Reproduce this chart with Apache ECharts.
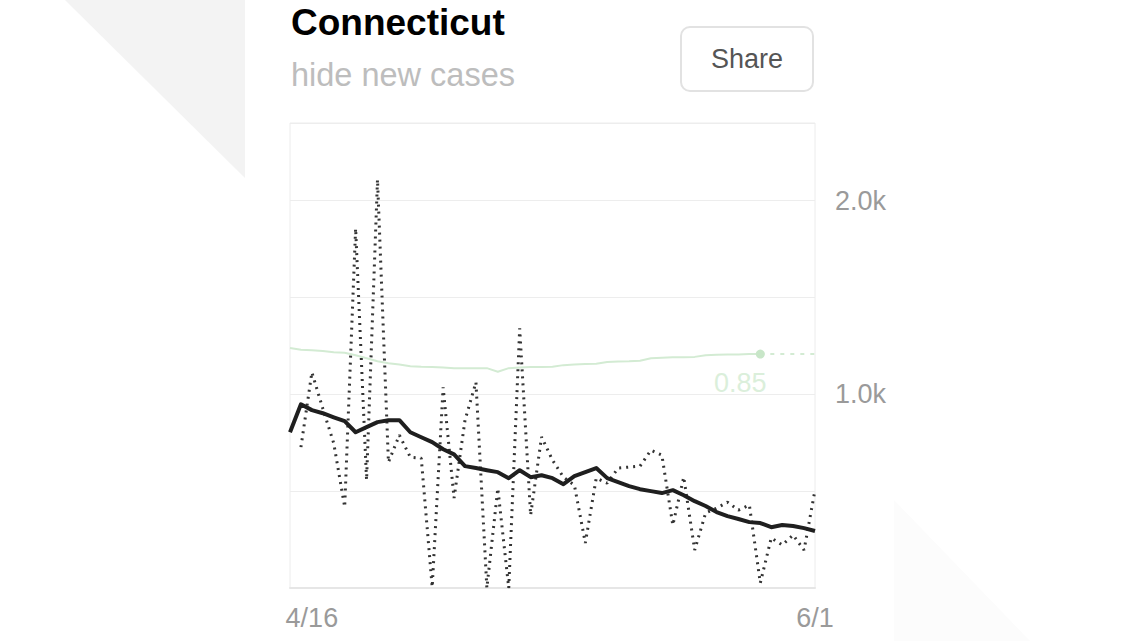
<!DOCTYPE html>
<html>
<head>
<meta charset="utf-8">
<script src="https://cdn.jsdelivr.net/npm/echarts@6/dist/echarts.min.js"></script>
<style>
html,body{margin:0;padding:0;background:#fff;}
#chart{width:1140px;height:641px;}
</style>
</head>
<body>
<div id="chart"></div>
<script>
// ---- data ----
const titleText = 'Connecticut';
const subtitleText = 'hide new cases';
const buttonText = 'Share';
const dates = ['4/14','4/15','4/16','4/17','4/18','4/19','4/20','4/21','4/22','4/23','4/24','4/25','4/26','4/27','4/28','4/29','4/30',
  '5/1','5/2','5/3','5/4','5/5','5/6','5/7','5/8','5/9','5/10','5/11','5/12','5/13','5/14','5/15','5/16','5/17','5/18','5/19','5/20',
  '5/21','5/22','5/23','5/24','5/25','5/26','5/27','5/28','5/29','5/30','5/31','6/1'];
const shownDateLabels = ['4/16','6/1'];
const newCases = [null,727,1113,926,747,418,1856,557,2108,649,789,675,670,5,1036,464,866,1062,0,514,0,1340,376,780,
  660,572,531,232,567,541,619,624,629,711,686,325,572,196,387,412,443,402,428,26,258,222,273,196,505];
const avgCases = [804,948,918,902,881,861,804,830,856,866,866,804,778,753,716,690,629,619,608,598,567,608,572,582,
  567,536,577,598,619,567,546,526,510,500,490,505,479,448,423,392,371,356,340,335,314,325,320,309,294];
const rtValues = [0.872,0.866,0.864,0.861,0.857,0.855,0.846,0.835,0.824,0.817,0.812,0.806,0.804,0.803,0.801,0.799,
  0.799,0.799,0.799,0.786,0.799,0.801,0.803,0.803,0.804,0.810,0.812,0.814,0.815,0.821,0.823,0.824,0.826,0.835,0.837,
  0.839,0.839,0.840,0.846,0.848,0.849,0.849,0.850,0.850];
const rtProjection = [0.85,0.85,0.85,0.85,0.85,0.85];
const yTickLabels = {1000:'1.0k', 2000:'2.0k'};

// ---- build ----
const font = '"Liberation Sans", Arial, Helvetica, sans-serif';
const lastRt = rtValues.length - 1;
const rtData = rtValues.map((v, i) => i === lastRt ? {
  value: v,
  symbol: 'circle', symbolSize: 9,
  itemStyle: {color: '#c8e6c8', opacity: 1},
  label: {show: true, position: 'bottom', distance: 11, offset: [-20, 0],
    formatter: p => p.value.toFixed(2), color: '#dbefdb', fontSize: 27, fontFamily: font}
} : {value: v, symbolSize: 0, itemStyle: {opacity: 0}});
const projData = dates.map((d, i) => i < lastRt ? null : rtProjection[i - lastRt]);

const chart = echarts.init(document.getElementById('chart'), null, {renderer: 'svg'});
chart.setOption({
  animation: false,
  backgroundColor: '#ffffff',
  grid: {left: 290, right: 325, top: 123, bottom: 53, show: true, borderColor: '#ececec', borderWidth: 1, backgroundColor: 'transparent'},
  graphic: [
    {type: 'polygon', z: -10, shape: {points: [[65,0],[245,0],[245,178]]}, style: {fill: '#f3f3f3'}},
    {type: 'polygon', z: -10, shape: {points: [[894,500],[894,641],[1030,641]]}, style: {fill: '#fcfcfc'}},
    {type: 'text', left: 291, top: 4, style: {text: titleText, font: 'bold 37px ' + font, fill: '#000'}},
    {type: 'text', left: 291, top: 58, style: {text: subtitleText, font: '32.5px ' + font, fill: '#bdbdbd'}},
    {type: 'rect', shape: {x: 681, y: 27, width: 132, height: 64, r: 9}, style: {fill: '#fff', stroke: '#e2e2e2', lineWidth: 2}},
    {type: 'text', x: 747, y: 59, style: {text: buttonText, font: '27px ' + font, fill: '#555', align: 'center', verticalAlign: 'middle'}}
  ],
  xAxis: {
    type: 'category', data: dates, boundaryGap: false,
    axisLine: {show: true, lineStyle: {color: '#e6e6e6', width: 2}},
    axisTick: {show: false},
    splitLine: {show: false},
    axisLabel: {
      interval: (i, v) => shownDateLabels.indexOf(v) >= 0,
      showMaxLabel: true,
      color: '#9a9a9a', fontSize: 27, fontFamily: font, margin: 16
    }
  },
  yAxis: [{
    type: 'value', position: 'right', min: 0, max: 2400, interval: 500,
    axisLine: {show: false}, axisTick: {show: false},
    splitLine: {show: true, lineStyle: {color: '#ededed', width: 1}},
    axisLabel: {formatter: v => yTickLabels[v] || '', color: '#9a9a9a', fontSize: 27, fontFamily: font, margin: 20, showMaxLabel: false}
  }, {
    type: 'value', show: false, min: 0, max: 1.69
  }],
  series: [
    {name: 'rt', type: 'line', yAxisIndex: 1, data: rtData, showSymbol: true, symbol: 'circle', z: 1,
      lineStyle: {color: '#d3ebd3', width: 2}, itemStyle: {color: '#c8e6c8'}},
    {name: 'rt projection', type: 'line', yAxisIndex: 1, data: projData, symbol: 'none', z: 1,
      lineStyle: {color: '#d3ebd3', width: 2, type: [4, 6]}},
    {name: 'new cases', type: 'line', data: newCases, symbol: 'none', z: 2, connectNulls: false,
      lineStyle: {color: '#333', width: 3, type: [2, 5], cap: 'butt'}},
    {name: '7-day average', type: 'line', data: avgCases, symbol: 'none', z: 3,
      lineStyle: {color: '#1f1f1f', width: 4, join: 'round'}}
  ]
});
</script>
</body>
</html>
